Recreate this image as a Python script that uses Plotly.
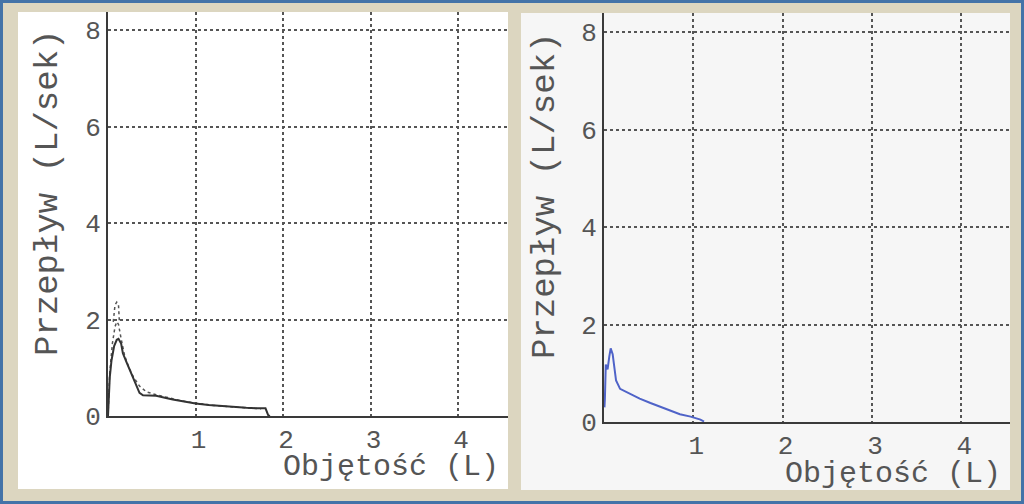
import plotly.graph_objects as go

# left panel: flow-volume curves (black solid + two dotted repeats)
left_vol = [0.0, 0.01, 0.02, 0.04, 0.07, 0.10, 0.12, 0.15, 0.17, 0.21, 0.25, 0.31, 0.36, 0.40,
            0.48, 0.55, 0.65, 0.74, 0.87, 1.00, 1.15, 1.27, 1.42, 1.58, 1.70, 1.80, 1.83, 1.85]
left_flow = [0.0, 0.45, 0.80, 1.15, 1.45, 1.58, 1.60, 1.50, 1.30, 1.12, 0.95, 0.67, 0.48, 0.43,
             0.43, 0.42, 0.38, 0.34, 0.30, 0.26, 0.23, 0.21, 0.19, 0.17, 0.16, 0.16, 0.02, 0.0]

dot1_vol = [0.0, 0.02, 0.05, 0.08, 0.10, 0.12, 0.15, 0.19, 0.24, 0.29, 0.36, 0.44, 0.55, 0.70,
            0.85, 1.00, 1.20, 1.40, 1.60, 1.75]
dot1_flow = [0.0, 0.9, 1.5, 1.85, 1.95, 1.90, 1.60, 1.25, 1.00, 0.81, 0.62, 0.50, 0.44, 0.37,
             0.31, 0.27, 0.22, 0.19, 0.17, 0.15]

dot2_vol = [0.06, 0.08, 0.10, 0.12, 0.13]
dot2_flow = [1.95, 2.30, 2.36, 2.30, 1.95]

# right panel: blue curve
right_vol = [0.005, 0.01, 0.02, 0.04, 0.06, 0.075, 0.097, 0.116, 0.135, 0.18, 0.29, 0.40, 0.52,
             0.63, 0.74, 0.85, 0.97, 1.08, 1.12]
right_flow = [0.30, 0.48, 1.18, 1.08, 1.35, 1.51, 1.39, 1.05, 0.85, 0.68, 0.58, 0.48, 0.39,
              0.31, 0.23, 0.16, 0.11, 0.05, 0.01]

x_ticks = [0, 1, 2, 3, 4]
y_ticks = [0, 2, 4, 6, 8]
x_title = "Objętość (L)"
y_title = "Przepływ (L/sek)"

W, H = 1024, 504
def px(x):
    return x / W
def py(y):
    return 1 - y / H

fig = go.Figure()
fig.add_trace(go.Scatter(x=dot1_vol, y=dot1_flow, mode="lines", xaxis="x", yaxis="y",
                         line=dict(color="#555555", width=1.5, dash="dot")))
fig.add_trace(go.Scatter(x=dot2_vol, y=dot2_flow, mode="lines", xaxis="x", yaxis="y",
                         line=dict(color="#555555", width=1.5, dash="dot")))
fig.add_trace(go.Scatter(x=left_vol, y=left_flow, mode="lines", xaxis="x", yaxis="y",
                         line=dict(color="#333333", width=2)))
fig.add_trace(go.Scatter(x=right_vol, y=right_flow, mode="lines", xaxis="x2", yaxis="y2",
                         line=dict(color="#4f63c8", width=2)))

mono = "Liberation Mono, Courier New, monospace"
axis_common = dict(
    showline=True, linecolor="#3a3a3a", linewidth=2,
    showgrid=True, gridcolor="#555555", gridwidth=1.5, griddash="dot",
    zeroline=False, ticks="", tickfont=dict(family=mono, size=26, color="#555555"),
    fixedrange=True,
)

fig.update_layout(
    width=W, height=H,
    margin=dict(l=0, r=0, t=0, b=0, autoexpand=False),
    paper_bgcolor="#dcd6c0",
    plot_bgcolor="rgba(0,0,0,0)",
    showlegend=False,
    xaxis=dict(axis_common, domain=[px(108), px(508)], range=[0, 4.571], tickvals=x_ticks,
               ticktext=["", "1", "2", "3", "4"], anchor="y", ticklabelstandoff=-1, ticklabelshift=3),
    yaxis=dict(axis_common, domain=[py(416), py(12)], range=[0, 8.373], tickvals=y_ticks,
               anchor="x", ticklabelstandoff=0),
    xaxis2=dict(axis_common, domain=[px(604), px(1010)], range=[0, 4.546], tickvals=x_ticks,
                ticktext=["", "1", "2", "3", "4"], anchor="y2", ticklabelstandoff=-1, ticklabelshift=3),
    yaxis2=dict(axis_common, domain=[py(422), py(13)], range=[0, 8.39], tickvals=y_ticks,
                anchor="x2", ticklabelstandoff=0),
)

# frame: blue border and the two panel backgrounds
fig.add_shape(type="rect", xref="paper", yref="paper", x0=px(1.5), x1=px(1022.5), y0=py(502.5), y1=py(1.5),
              line=dict(color="#4373a8", width=3), fillcolor="rgba(0,0,0,0)", layer="below")
fig.add_shape(type="rect", xref="paper", yref="paper", x0=px(18), x1=px(508), y0=py(489), y1=py(12),
              line=dict(width=0), fillcolor="#ffffff", layer="below")
fig.add_shape(type="rect", xref="paper", yref="paper", x0=px(521), x1=px(1010), y0=py(490), y1=py(13),
              line=dict(width=0), fillcolor="#f6f6f6", layer="below")

x_title_font = dict(family=mono, size=30, color="#555555")
y_title_font = dict(family=mono, size=34, color="#555555")
for xc, yc in [(391, 467), (893, 474)]:
    fig.add_annotation(text=x_title, xref="paper", yref="paper", x=px(xc), y=py(yc),
                       showarrow=False, font=x_title_font, xanchor="center", yanchor="middle")
for xc, yc in [(48, 193), (545, 196)]:
    fig.add_annotation(text=y_title, xref="paper", yref="paper", x=px(xc), y=py(yc),
                       showarrow=False, font=y_title_font, textangle=-90,
                       xanchor="center", yanchor="middle")

fig.write_html("out.html", config={"displayModeBar": False},
               post_script="document.body.style.margin='0px';document.body.style.overflow='hidden';")
